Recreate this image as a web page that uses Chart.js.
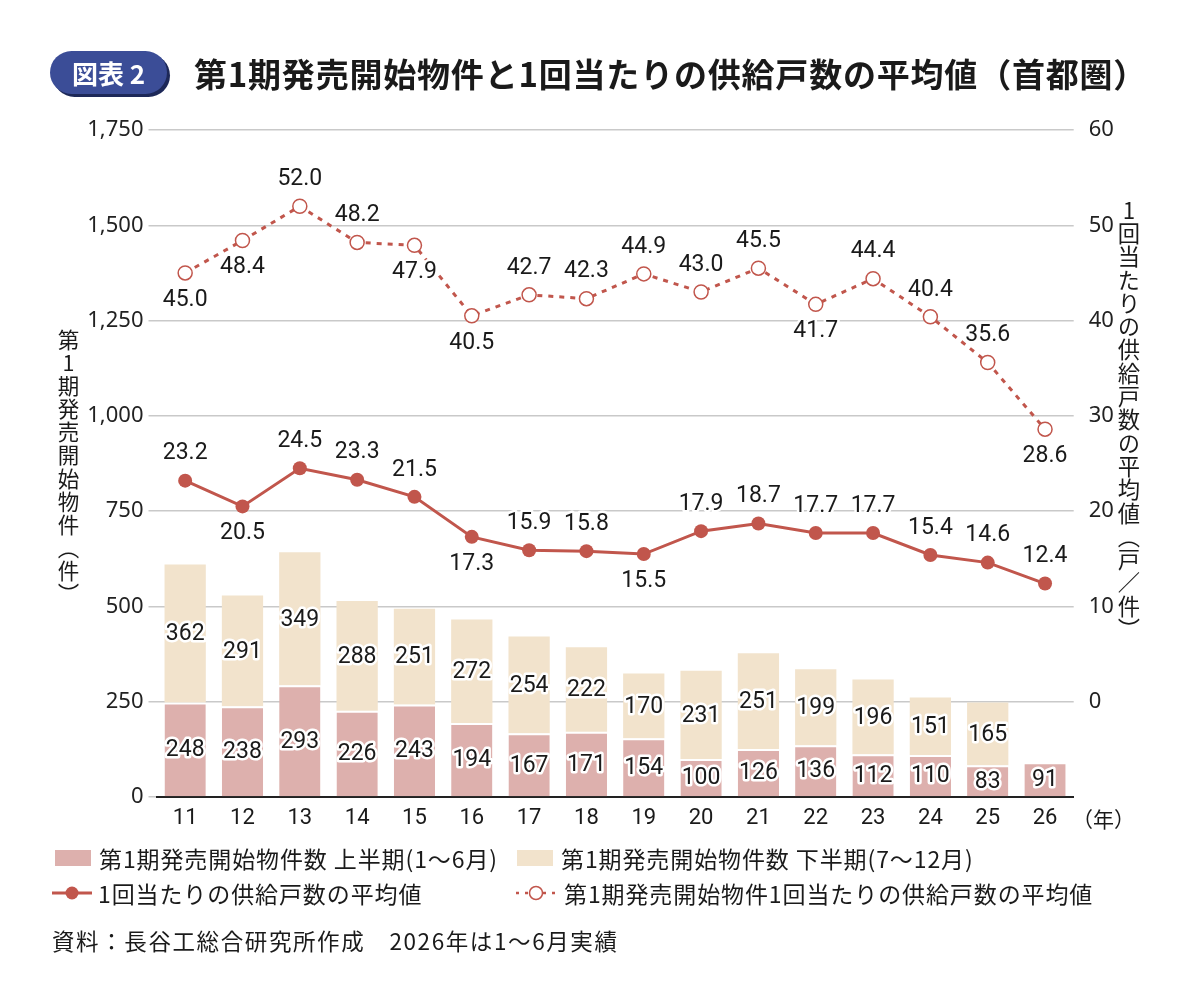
<!DOCTYPE html>
<html><head><meta charset="utf-8">
<script src="https://cdn.jsdelivr.net/npm/chart.js@4"></script>
<style>
html,body{margin:0;padding:0;background:#fff;}
body{width:1187px;height:1003px;position:relative;overflow:hidden;font-family:"Noto Sans CJK JP","Noto Sans",sans-serif;color:#1a1a1a;}
#c{position:absolute;left:0;top:0;}
.badge{position:absolute;left:50px;top:51px;width:117px;height:43px;border-radius:22px;background:#3b4d97;box-shadow:3px 3px 0 #1d2858;color:#fff;font-weight:bold;font-size:26px;line-height:43px;text-align:center;}
.title{position:absolute;left:194px;top:49px;font-size:33px;font-weight:bold;line-height:48px;white-space:nowrap;letter-spacing:0.8px;}
.vt{position:absolute;writing-mode:vertical-rl;text-orientation:upright;line-height:24px;white-space:nowrap;color:#1a1a1a;}
.leg{position:absolute;font-size:23px;line-height:26px;white-space:nowrap;display:flex;align-items:center;letter-spacing:0.9px;}
.sw{display:inline-block;width:36px;height:16px;margin-right:8px;margin-left:3px;}
.src{position:absolute;left:52px;top:924px;font-size:22.5px;white-space:nowrap;letter-spacing:1.6px;}
.nen{position:absolute;left:1072px;top:803px;font-size:21px;}
</style></head>
<body>
<canvas id="c" width="1187" height="1003"></canvas>
<div class="badge">図表 2</div>
<div class="title">第1期発売開始物件と1回当たりの供給戸数の平均値（首都圏）</div>
<div class="vt" style="left:56px;top:329px;font-size:21.5px;letter-spacing:1.6px;">第1期発売開始物件（件）</div>
<div class="vt" style="left:1117px;top:199px;font-size:22.3px;letter-spacing:1px;">1回当たりの供給戸数の平均値（戸／件）</div>
<div class="nen">（年）</div>
<div class="leg" style="left:52px;top:845px;"><span class="sw" style="background:#ddb0ad"></span>第1期発売開始物件数 上半期(1～6月)</div>
<div class="leg" style="left:514px;top:845px;"><span class="sw" style="background:#f2e3cc"></span>第1期発売開始物件数 下半期(7～12月)</div>
<div class="leg" style="left:52px;top:880px;"><svg width="40" height="20" style="margin-right:6px"><line x1="0" y1="10" x2="40" y2="10" stroke="#c1564c" stroke-width="3"/><circle cx="20" cy="10" r="6.5" fill="#c1564c"/></svg>1回当たりの供給戸数の平均値</div>
<div class="leg" style="left:516px;top:880px;"><svg width="40" height="20" style="margin-right:8px"><line x1="0" y1="10" x2="40" y2="10" stroke="#c1564c" stroke-width="2.5" stroke-dasharray="3,6"/><circle cx="20" cy="10" r="6.5" fill="#fff" stroke="#c1564c" stroke-width="1.5"/></svg>第1期発売開始物件1回当たりの供給戸数の平均値</div>
<div class="src">資料：長谷工総合研究所作成　2026年は1～6月実績</div>
<script>
const years = ['11','12','13','14','15','16','17','18','19','20','21','22','23','24','25','26'];
const firstHalf = [248,238,293,226,243,194,167,171,154,100,126,136,112,110,83,91];
const secondHalf = [362,291,349,288,251,272,254,222,170,231,251,199,196,151,165,null];
const avgAll = [23.2,20.5,24.5,23.3,21.5,17.3,15.9,15.8,15.5,17.9,18.7,17.7,17.7,15.4,14.6,12.4];
const avgFirst = [45.0,48.4,52.0,48.2,47.9,40.5,42.7,42.3,44.9,43.0,45.5,41.7,44.4,40.4,35.6,28.6];
const avgAllSide = ['a','b','a','a','a','b','a','a','b','a','a','a','a','a','a','a'];
const avgFirstSide = ['b','b','a','a','b','b','a','a','a','a','a','b','a','a','a','b'];
const leftTicks = [0,250,500,750,1000,1250,1500,1750];
const rightTicks = [0,10,20,30,40,50,60];

const RED = '#c1564c';
const labelPlugin = {
  id:'vals',
  afterDatasetsDraw(chart){
    const ctx = chart.ctx;
    ctx.save();
    chart.data.datasets.forEach((ds,i)=>{
      const meta = chart.getDatasetMeta(i);
      meta.data.forEach((el,j)=>{
        const v = ds.data[j];
        if (v==null) return;
        let x,y,txt;
        if (ds.type==='bar'){
          const p = el.getProps(['x','y','base'],true);
          x=p.x; y=(p.y+p.base)/2+1; txt=String(v);
        } else {
          const side = ds.side[j];
          x=el.x; y=el.y+(side==='a'?-27:27); txt=v.toFixed(1);
        }
        ctx.font='23px Roboto, "DejaVu Sans", sans-serif';
        ctx.textAlign='center'; ctx.textBaseline='middle';
        ctx.lineJoin='round'; ctx.lineWidth=5; ctx.strokeStyle='#fff';
        ctx.strokeText(txt,x,y);
        ctx.fillStyle='#1a1a1a';
        ctx.fillText(txt,x,y);
      });
    });
    ctx.restore();
  }
};

new Chart(document.getElementById('c'),{
  data:{
    labels:years,
    datasets:[
      {type:'line',label:'1回当たりの供給戸数の平均値',data:avgAll,side:avgAllSide,yAxisID:'y1',order:0,
       borderColor:RED,borderWidth:3,pointRadius:7,pointBackgroundColor:RED,pointBorderColor:RED,pointBorderWidth:0,tension:0},
      {type:'line',label:'第1期発売開始物件1回当たりの供給戸数の平均値',data:avgFirst,side:avgFirstSide,yAxisID:'y1',order:0,
       borderColor:RED,borderWidth:3,borderDash:[5,6],pointRadius:7,pointBackgroundColor:'#fff',pointBorderColor:RED,pointBorderWidth:1.5,tension:0},
      {type:'bar',label:'上半期',data:firstHalf,yAxisID:'y',order:1,backgroundColor:'#ddb0ad',
       borderColor:'#fff',borderWidth:{top:2,left:0,right:0,bottom:0},borderSkipped:false,barPercentage:0.72,categoryPercentage:1},
      {type:'bar',label:'下半期',data:secondHalf,yAxisID:'y',order:1,backgroundColor:'#f2e3cc',
       borderWidth:0,barPercentage:0.72,categoryPercentage:1}
    ]
  },
  options:{
    responsive:false,animation:false,devicePixelRatio:1,
    layout:{padding:{top:130,left:56.5,right:13.3,bottom:166}},
    plugins:{legend:{display:false},tooltip:{enabled:false}},
    scales:{
      x:{stacked:true,offset:true,
         grid:{display:false,drawTicks:false},
         border:{display:true,color:'#222',width:2},
         ticks:{color:'#1a1a1a',font:{family:'Roboto',size:22},padding:8},
         afterFit(s){s.height=40;}},
      y:{stacked:true,position:'left',min:0,max:1750,
         afterBuildTicks(s){s.ticks=leftTicks.map(v=>({value:v}));},
         grid:{color:'#c9c9c9',lineWidth:1.5,tickLength:8,drawTicks:true},
         border:{display:false},
         ticks:{color:'#222',font:{family:'"Noto Sans"',size:22},padding:5,callback:v=>v.toLocaleString('en-US')},
         afterFit(s){s.width=100;}},
      y1:{position:'right',min:-10,max:60,
         afterBuildTicks(s){s.ticks=rightTicks.map(v=>({value:v}));},
         grid:{display:false,drawOnChartArea:false},
         border:{display:false},
         ticks:{color:'#222',font:{family:'"Noto Sans"',size:22},padding:7},
         afterFit(s){s.width=100;}}
    }
  },
  plugins:[labelPlugin]
});
</script>
</body></html>
